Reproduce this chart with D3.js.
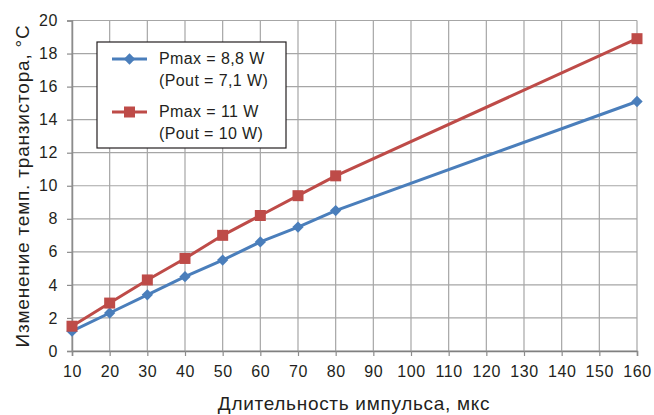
<!DOCTYPE html>
<html>
<head>
<meta charset="utf-8">
<script src="https://cdn.jsdelivr.net/npm/d3@7.9.0/dist/d3.min.js"></script>
<style>
  body { margin: 0; background: #fff; }
  svg text { font-family: "Liberation Sans", Arial, sans-serif; fill: #231f20; }
</style>
</head>
<body>
<svg id="chart" width="654" height="415"></svg>
<script>
// pulse duration, us
const pulse = [10, 20, 30, 40, 50, 60, 70, 80, 160];
const xTicks = [10, 20, 30, 40, 50, 60, 70, 80, 90, 100, 110, 120, 130, 140, 150, 160];
const yTicks = [0, 2, 4, 6, 8, 10, 12, 14, 16, 18, 20];

// temperature rise, °C
const lowPower = [1.2, 2.3, 3.4, 4.5, 5.5, 6.6, 7.5, 8.5, 15.1];
const highPower = [1.5, 2.9, 4.3, 5.6, 7.0, 8.2, 9.4, 10.6, 18.9];

const seriesNames = [
  ['Pmax = 8,8 W', '(Pout = 7,1 W)'],
  ['Pmax = 11 W', '(Pout = 10 W)']
];

const svg = d3.select('#chart');
const x = d3.scaleLinear().domain([10, 160]).range([72, 637]);
const y = d3.scaleLinear().domain([0, 20]).range([351, 20.5]);

// grid
svg.append('g').selectAll('line').data(xTicks).join('line')
  .attr('x1', d => x(d)).attr('x2', d => x(d))
  .attr('y1', y(20)).attr('y2', y(0))
  .attr('stroke', '#a6a6a6').attr('stroke-width', 1.2);
svg.append('g').selectAll('line').data(yTicks).join('line')
  .attr('x1', x(10)).attr('x2', x(160))
  .attr('y1', d => y(d)).attr('y2', d => y(d))
  .attr('stroke', '#a6a6a6').attr('stroke-width', 1.2);

// axes
const xAxis = svg.append('g').attr('transform', `translate(0,${y(0)})`)
  .call(d3.axisBottom(x).tickValues(xTicks).tickSize(5).tickPadding(10));
const yAxis = svg.append('g').attr('transform', `translate(${x(10)},0)`)
  .call(d3.axisLeft(y).tickValues(yTicks).tickSize(5).tickPadding(9));
[xAxis, yAxis].forEach(a => {
  a.select('.domain').attr('stroke', '#8c8c8c').attr('stroke-width', 1.5);
  a.selectAll('.tick line').attr('stroke', '#8c8c8c').attr('stroke-width', 1.2);
  a.selectAll('.tick text').style('font-size', '16px').style('letter-spacing', '0.6px')
    .attr('fill', '#231f20');
});
xAxis.select('.domain').attr('stroke', '#808080');

// axis titles
svg.append('text')
  .attr('x', 354).attr('y', 410)
  .attr('text-anchor', 'middle')
  .style('font-size', '19px').style('letter-spacing', '0.7px')
  .text('Длительность импульса, мкс');
svg.append('text')
  .attr('transform', 'translate(29,186) rotate(-90)')
  .attr('text-anchor', 'middle')
  .style('font-size', '19px').style('letter-spacing', '0.8px')
  .text('Изменение темп. транзистора, °C');

// series
const colors = ['#4a7ebb', '#be4b48'];
const series = [lowPower, highPower];
const line = d3.line().x((d, i) => x(pulse[i])).y(d => y(d));
const diamond = d3.symbol().type(d3.symbolSquare).size(64);
const square = d3.symbol().type(d3.symbolSquare).size(121);
const shapes = [diamond, square];
const turn = [' rotate(45)', ''];

series.forEach((vals, s) => {
  svg.append('path').datum(vals)
    .attr('d', line)
    .attr('fill', 'none')
    .attr('stroke', colors[s])
    .attr('stroke-width', 3);
  svg.append('g').selectAll('path').data(vals).join('path')
    .attr('transform', (d, i) => `translate(${x(pulse[i])},${y(d)})` + turn[s])
    .attr('d', shapes[s]())
    .attr('fill', colors[s]);
});

// legend
const legend = svg.append('g');
legend.append('rect')
  .attr('x', 97).attr('y', 42).attr('width', 189).attr('height', 106)
  .attr('fill', '#fff').attr('stroke', '#231f20').attr('stroke-width', 1.2);
const legendRows = [59, 112];
seriesNames.forEach((names, s) => {
  const ly = legendRows[s];
  legend.append('line')
    .attr('x1', 112).attr('x2', 147).attr('y1', ly).attr('y2', ly)
    .attr('stroke', colors[s]).attr('stroke-width', 3);
  legend.append('path')
    .attr('transform', `translate(129.5,${ly})` + turn[s])
    .attr('d', shapes[s]())
    .attr('fill', colors[s]);
  names.forEach((t, k) => {
    legend.append('text')
      .attr('x', 159).attr('y', ly + 5 + k * 21.5)
      .style('font-size', '16px').style('letter-spacing', '0.4px')
      .text(t);
  });
});
</script>
</body>
</html>
